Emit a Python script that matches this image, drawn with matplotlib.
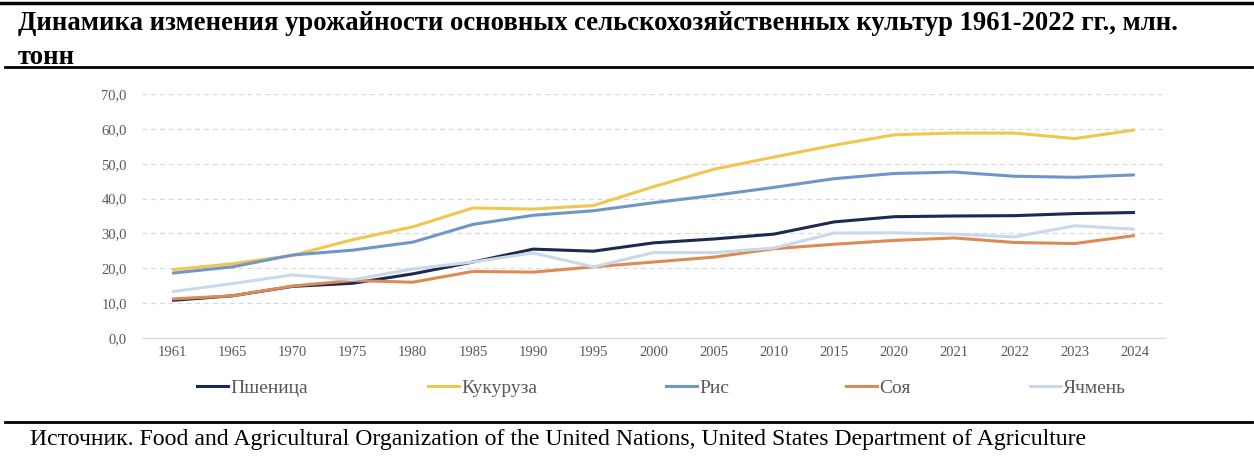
import matplotlib
matplotlib.use('Agg')
import matplotlib.pyplot as plt
from matplotlib.lines import Line2D

# данные (млн. тонн)
years = ['1961', '1965', '1970', '1975', '1980', '1985', '1990', '1995', '2000',
         '2005', '2010', '2015', '2020', '2021', '2022', '2023', '2024']
wheat = [10.8, 12.1, 14.8, 15.7, 18.4, 21.8, 25.5, 24.9, 27.3, 28.4, 29.8, 33.3,
         34.8, 35.0, 35.1, 35.7, 36.0]
corn = [19.6, 21.3, 23.7, 28.2, 31.9, 37.3, 37.0, 38.0, 43.4, 48.4, 51.9, 55.3,
        58.3, 58.8, 58.8, 57.2, 59.7]
rice = [18.6, 20.4, 23.8, 25.2, 27.5, 32.6, 35.2, 36.5, 38.8, 40.9, 43.2, 45.7,
        47.2, 47.6, 46.4, 46.1, 46.8]
soy = [11.2, 12.1, 14.9, 16.5, 16.0, 19.1, 18.9, 20.4, 21.8, 23.2, 25.6, 26.9,
       28.0, 28.7, 27.4, 27.1, 29.4]
barley = [13.3, 15.6, 18.1, 16.7, 19.8, 21.8, 24.4, 20.4, 24.5, 24.5, 25.8, 30.1,
          30.2, 29.8, 29.0, 32.2, 31.2]

names = ['Пшеница', 'Кукуруза', 'Рис', 'Соя', 'Ячмень']
colors = ['#1b2a52', '#f1c650', '#6e97c8', '#de8a55', '#c9d9ea']
yticks = [0, 10, 20, 30, 40, 50, 60, 70]
legend_x = [197, 428, 666, 846, 1030]  # левый край маркера легенды, px

W, H = 1254, 458
plt.rcParams['font.family'] = ['Liberation Serif', 'DejaVu Serif']

fig = plt.figure(figsize=(W / 100, H / 100), dpi=100)
ax = fig.add_axes([142 / W, 1 - 338 / H, (1165 - 142) / W, (338 - 94) / H])

x = list(range(len(years)))
for series, c in zip([wheat, corn, rice, soy, barley], colors):
    ax.plot(x, series, color=c, linewidth=2.2, solid_capstyle='butt')

ax.set_xlim(-0.5, len(years) - 0.5)
ax.set_ylim(0, 70)
ax.set_yticks(yticks)
ax.set_yticklabels([f'{v:.1f}'.replace('.', ',') for v in yticks])
ax.set_xticks(x)
ax.set_xticklabels(years)
ax.tick_params(length=0, labelsize=10.5, colors='#595959')
ax.tick_params(axis='y', pad=11)
ax.tick_params(axis='x', pad=6)

for v in yticks[1:]:
    ax.axhline(v, color='#d9d9d9', linewidth=0.9, linestyle=(0, (4, 3)), zorder=0)
for s in ['top', 'right', 'left']:
    ax.spines[s].set_visible(False)
ax.spines['bottom'].set_color('#d9d9d9')
ax.spines['bottom'].set_linewidth(0.9)

# легенда: по одному элементу, чтобы совпали позиции
for name, c, lx in zip(names, colors, legend_x):
    leg = fig.legend([Line2D([], [], color=c, linewidth=2.2)], [name],
                     loc='center left', bbox_to_anchor=(lx / W, 1 - 388 / H),
                     frameon=False, fontsize=14, handlelength=1.6,
                     handletextpad=0.1, borderpad=0, borderaxespad=0)
    for t in leg.get_texts():
        t.set_color('#595959')

# линии и заголовок
fig.add_artist(Line2D([0, 1], [1 - 3 / H] * 2, color='black', linewidth=2.5))
fig.add_artist(Line2D([5 / W, 1252 / W], [1 - 67 / H] * 2, color='black', linewidth=2))
fig.add_artist(Line2D([5 / W, 1252 / W], [1 - 422 / H] * 2, color='black', linewidth=2))

fig.text(18 / W, 1 - 24 / H,
         'Динамика изменения урожайности основных сельскохозяйственных культур 1961-2022 гг., млн.',
         fontsize=19.2, fontweight='bold', va='center', ha='left')
fig.text(18 / W, 1 - 57 / H, 'тонн', fontsize=19.2, fontweight='bold', va='center', ha='left')
fig.text(30 / W, 1 - 440 / H,
         'Источник. Food and Agricultural Organization of the United Nations, '
         'United States Department of Agriculture',
         fontsize=17.1, va='center', ha='left')

fig.savefig('out.png', dpi=100)
